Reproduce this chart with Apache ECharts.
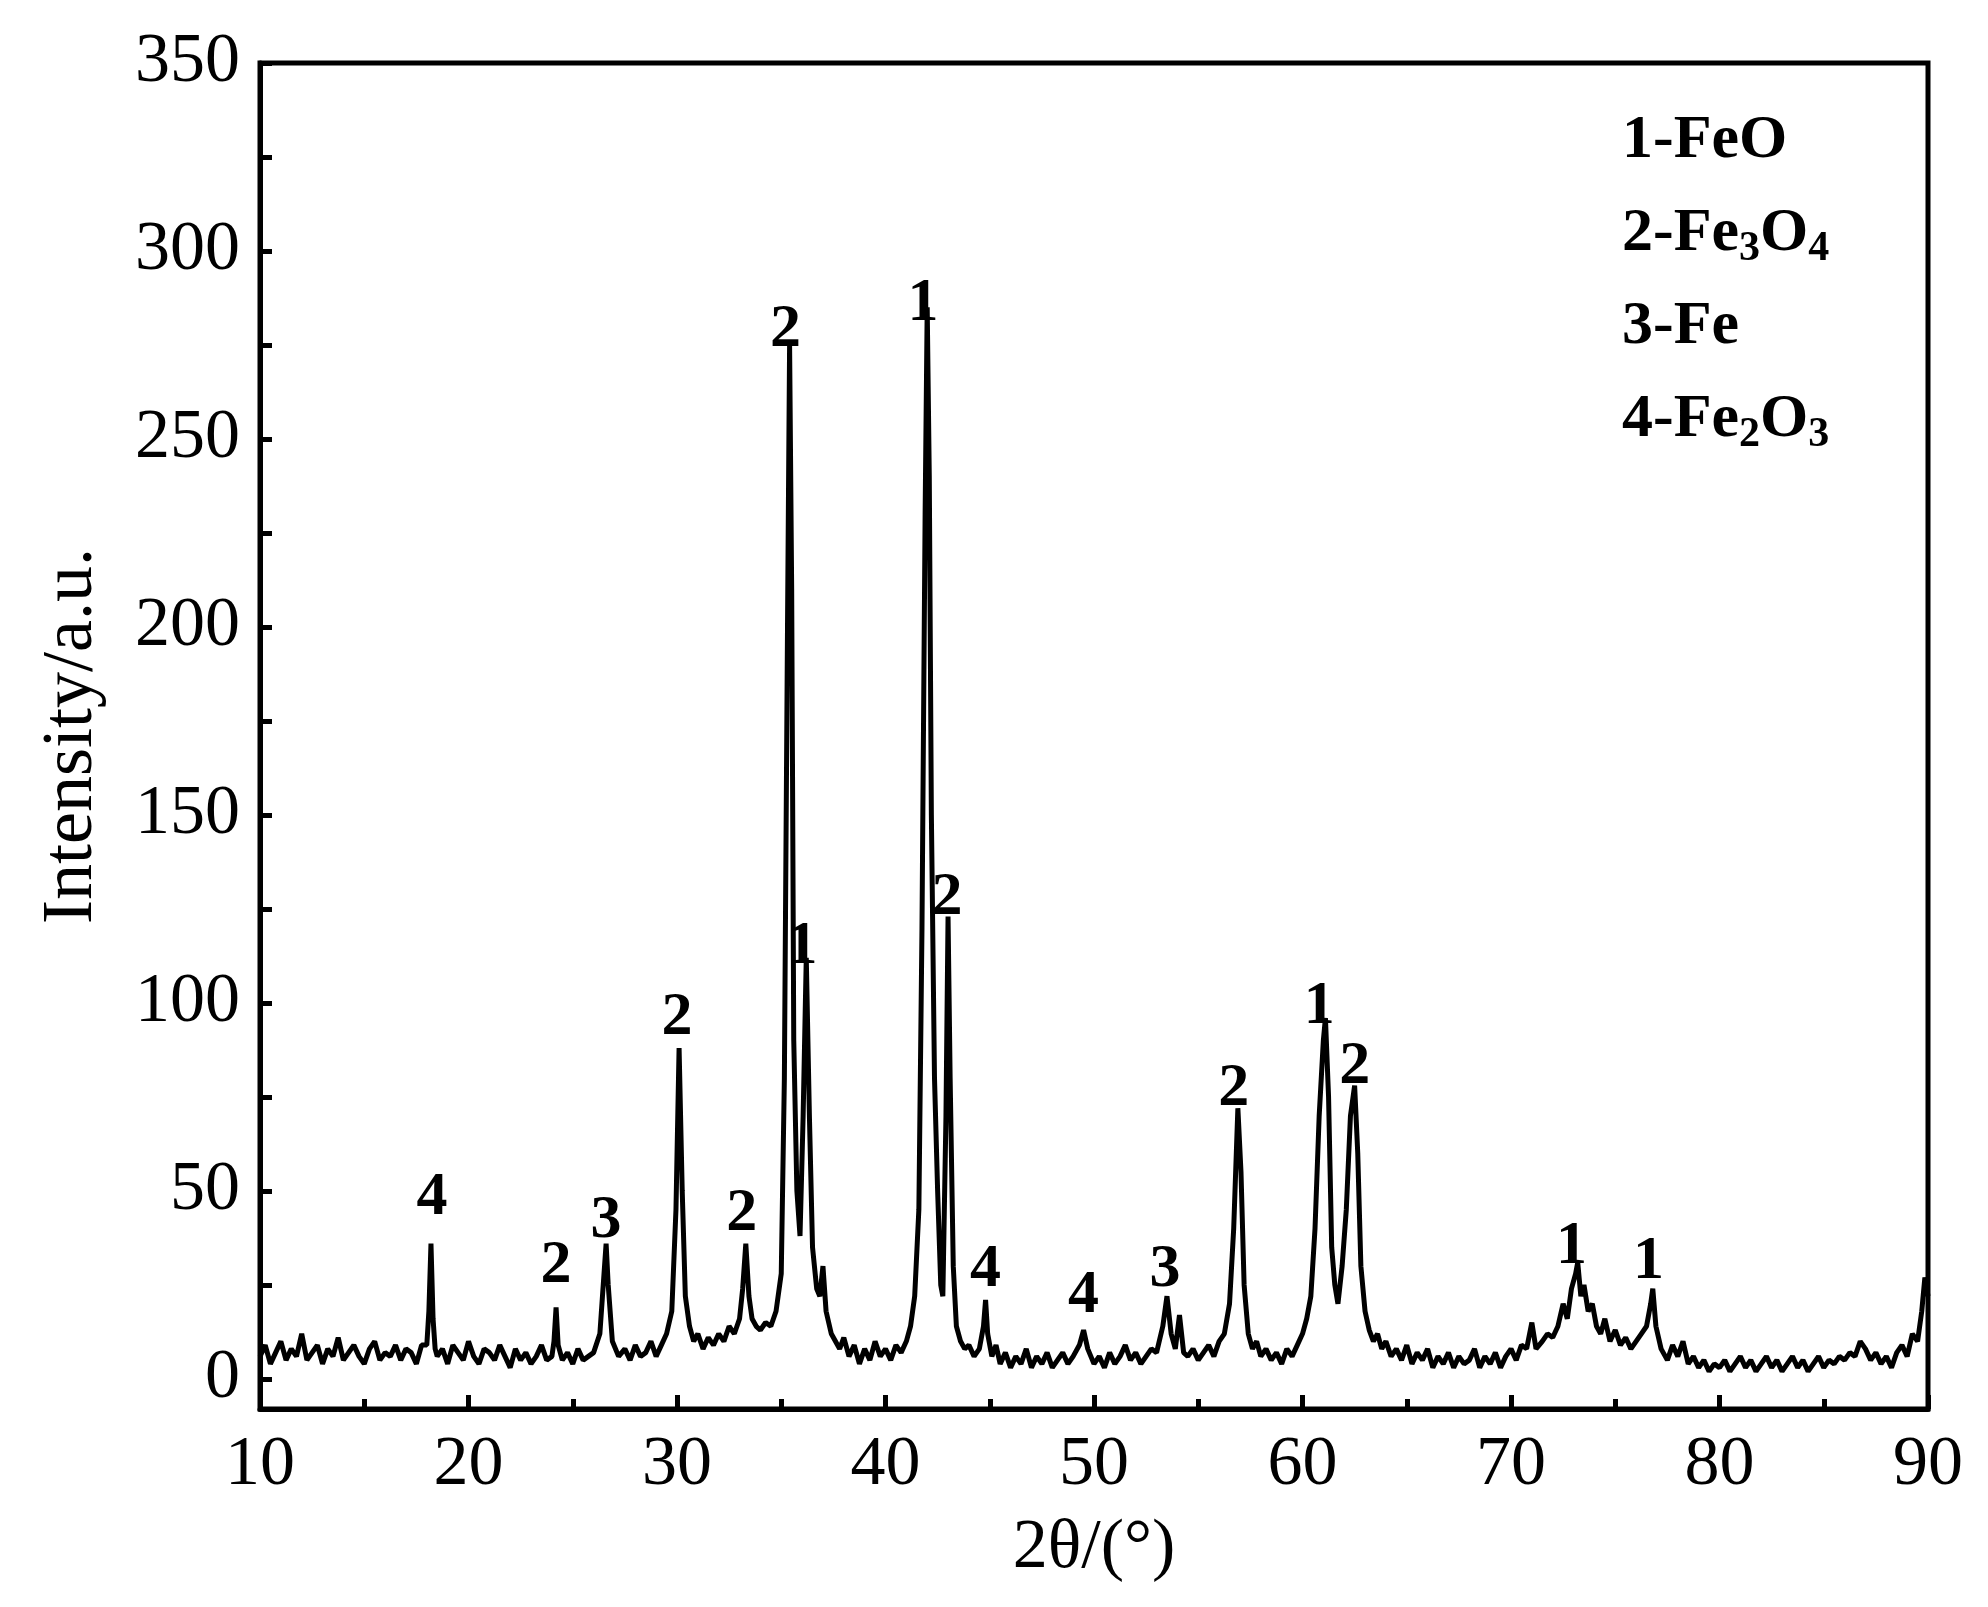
<!DOCTYPE html>
<html><head><meta charset="utf-8">
<script src="https://cdn.jsdelivr.net/npm/echarts@6/dist/echarts.min.js"></script>
<style>html,body{margin:0;padding:0;background:#fff}#c{width:1988px;height:1607px}</style>
</head><body><div id="c"></div>
<script>
const xTicks=[10,20,30,40,50,60,70,80,90];
const yTicks=[0,50,100,150,200,250,300,350];
const spectrum=[
[10,6],[10.25,9],[10.5,4],[10.75,7],[11,10],[11.25,5],[11.5,8],[11.75,6],[12,12],[12.25,5],[12.5,7],[12.75,9],[13,4],[13.25,8],[13.5,6],[13.75,11],[14,5],[14.25,7],[14.5,9],[14.75,6],[15,4],[15.25,8],[15.5,10],[15.75,5],[16,7],[16.25,6],[16.5,9],[16.75,5],[17,8],[17.25,7],[17.5,4],[17.75,9],
[18,9],[18.1,18],[18.2,36],[18.3,16],[18.4,8],
[18.5,6],[18.75,8],[19,4],[19.25,9],[19.5,7],[19.75,5],[20,10],[20.25,6],[20.5,4],[20.75,8],[21,7],[21.25,5],[21.5,9],[21.75,6],[22,3],[22.25,8],[22.5,5],[22.75,7],[23,4],[23.25,6],[23.5,9],[23.75,5],
[24,6],[24.1,10],[24.2,19],[24.3,9],[24.5,5],[24.75,7],[25,4],[25.25,8],[25.5,5],[25.75,6],[26,7],[26.3,12],[26.5,28],[26.6,36],[26.7,25],[26.9,10],[27.2,6],[27.5,8],[27.75,5],[28,9],[28.25,6],[28.5,7],[28.75,10],[29,6],[29.25,9],[29.5,12],[29.75,18],[29.95,45],[30.1,88],[30.25,50],[30.4,22],[30.6,14],[30.8,10],[31,12],[31.25,8],[31.5,11],[31.75,9],[32,12],[32.25,10],[32.5,14],[32.75,12],[33,16],[33.15,24],[33.3,36],[33.45,22],[33.6,16],[33.8,14],[34,13],[34.25,15],[34.5,14],[34.75,18],[35,28],[35.15,80],[35.3,200],[35.4,275],[35.5,210],[35.6,90],[35.75,50],[35.9,38],[36.05,70],[36.2,112],[36.35,70],[36.5,35],[36.7,24],[36.85,22],[37,30],[37.15,18],[37.4,12],[37.6,10],[37.8,8],[38,11],[38.25,6],[38.5,9],[38.75,4],[39,8],[39.25,5],[39.5,10],[39.75,6],[40,8],[40.25,5],[40.5,9],[40.75,7],[41,10],[41.2,14],[41.4,22],[41.6,45],[41.75,120],[41.9,230],[42,285],[42.1,240],[42.2,150],[42.35,80],[42.5,50],[42.65,25],[42.75,22],[42.9,70],[43,123],[43.1,80],[43.25,30],[43.4,14],[43.6,10],[43.8,8],[44,9],[44.25,6],[44.5,8],[44.7,14],[44.8,21],[44.9,12],[45.1,6],[45.3,9],[45.5,4],[45.75,7],[46,3],[46.25,6],[46.5,4],[46.75,8],[47,3],[47.25,6],[47.5,4],[47.75,7],[48,3],[48.25,5],[48.5,7],[48.75,4],[49,6],[49.3,9],[49.5,13],[49.7,8],[50,4],[50.25,6],[50.5,3],[50.75,7],[51,4],[51.25,6],[51.5,9],[51.75,5],[52,7],[52.25,4],[52.5,6],[52.75,8],[53,7],[53.3,14],[53.5,22],[53.7,12],[53.9,8],[54.1,17],[54.3,7],[54.5,6],[54.75,8],[55,5],[55.25,7],[55.5,9],[55.75,6],[56,10],[56.25,12],[56.5,20],[56.7,40],[56.9,72],[57.05,55],[57.2,25],[57.4,12],[57.6,8],[57.8,10],[58,6],[58.25,8],[58.5,5],[58.75,7],[59,4],[59.25,8],[59.5,6],[59.75,9],[60,12],[60.2,16],[60.4,22],[60.6,40],[60.8,70],[61,90],[61.1,96],[61.25,75],[61.4,35],[61.55,25],[61.7,20],[61.9,30],[62.1,45],[62.3,70],[62.5,78],[62.65,60],[62.8,30],[63,18],[63.2,13],[63.4,10],[63.6,12],[63.8,8],[64,10],[64.25,6],[64.5,8],[64.75,5],[65,9],[65.25,4],[65.5,7],[65.75,5],[66,8],[66.25,3],[66.5,6],[66.75,4],[67,7],[67.25,3],[67.5,6],[67.75,4],[68,5],[68.25,8],[68.5,3],[68.75,6],[69,4],[69.25,7],[69.5,3],[69.75,6],[70,8],[70.25,5],[70.5,9],[70.75,8],[71,15],[71.2,8],[71.5,10],[71.75,12],[72,11],[72.25,14],[72.5,20],[72.7,16],[72.9,24],[73.1,28],[73.2,31],[73.35,22],[73.5,25],[73.7,18],[73.9,20],[74.1,14],[74.3,12],[74.5,16],[74.75,10],[75,13],[75.25,9],[75.5,11],[75.75,8],[76,10],[76.25,12],[76.5,14],[76.7,20],[76.8,24],[76.95,14],[77.2,8],[77.5,5],[77.75,9],[78,6],[78.25,10],[78.5,4],[78.75,6],[79,3],[79.25,5],[79.5,2],[79.75,4],[80,3],[80.25,5],[80.5,2],[80.75,4],[81,6],[81.25,3],[81.5,5],[81.75,2],[82,4],[82.25,6],[82.5,3],[82.75,5],[83,2],[83.25,4],[83.5,6],[83.75,3],[84,5],[84.25,2],[84.5,4],[84.75,6],[85,3],[85.25,5],[85.5,4],[85.75,6],[86,5],[86.25,7],[86.5,6],[86.75,10],[87,8],[87.25,5],[87.5,7],[87.75,4],[88,6],[88.25,3],[88.5,7],[88.75,9],[89,6],[89.25,12],[89.5,10],[89.7,18],[89.85,27],[90,22]
];
const peakLabels=[[18.25,48,'4'],[24.2,30,'2'],[26.6,42,'3'],[30.0,96,'2'],[33.1,44,'2'],[35.2,279,'2'],[36.0,115,'1'],[41.8,286,'1'],[42.95,128,'2'],[44.8,29,'4'],[49.5,22,'4'],[53.4,29,'3'],[56.7,77,'2'],[60.8,99,'1'],[62.5,83,'2'],[72.9,35,'1'],[76.6,31,'1']];
const legendItems=['1-FeO','2-Fe{s|3}O{s|4}','3-Fe','4-Fe{s|2}O{s|3}'];
const F='"Liberation Serif","Times New Roman",serif';
const minor=[];for(let v=0;v<=350;v+=25)minor.push(v);
const chart=echarts.init(document.getElementById('c'));
chart.setOption({
 animation:false,backgroundColor:'#fff',
 grid:{left:260,top:63,right:60,bottom:198,show:true,borderColor:'#000',borderWidth:5,backgroundColor:'transparent'},
 xAxis:{type:'value',min:10,max:90,interval:10,name:'2θ/(°)',nameLocation:'middle',nameGap:105,
  nameTextStyle:{fontFamily:F,fontSize:70,color:'#000'},
  axisLine:{onZero:false,lineStyle:{color:'#000',width:5}},
  axisTick:{inside:true,length:14,lineStyle:{color:'#000',width:5}},
  minorTick:{show:true,splitNumber:2,length:10,lineStyle:{color:'#000',width:5}},
  axisLabel:{fontFamily:F,fontSize:70,color:'#000',margin:22},splitLine:{show:false}},
 yAxis:{type:'value',min:-8,max:350,name:'Intensity/a.u.',nameLocation:'middle',nameGap:152,
  nameTextStyle:{fontFamily:F,fontSize:72,color:'#000'},
  axisLine:{onZero:false,lineStyle:{color:'#000',width:5}},
  axisTick:{inside:true,length:12,customValues:minor,lineStyle:{color:'#000',width:5}},
  axisLabel:{fontFamily:F,fontSize:70,color:'#000',margin:20,customValues:yTicks},splitLine:{show:false}},
 series:[
  {type:'line',data:spectrum,showSymbol:false,lineStyle:{color:'#000',width:5},z:3},
  {type:'scatter',data:peakLabels.map(p=>[p[0],p[1],p[2]]),symbolSize:0,itemStyle:{opacity:1,color:'#000'},
   label:{show:true,formatter:p=>p.data[2],position:'inside',fontFamily:F,fontSize:62,fontWeight:'bold',color:'#000'},z:4}
 ],
 graphic:legendItems.map((t,i)=>({type:'text',left:1622,top:110+i*93,style:{
  rich:{n:{fontFamily:F,fontSize:62,fontWeight:'bold',fill:'#000'},s:{fontFamily:F,fontSize:42,fontWeight:'bold',fill:'#000',padding:[30,0,0,0]}},
  text:'{n|'+t.replace(/\{s\|(\d)\}/g,'}{s|$1}{n|')+'}'}}))
});
</script></body></html>
